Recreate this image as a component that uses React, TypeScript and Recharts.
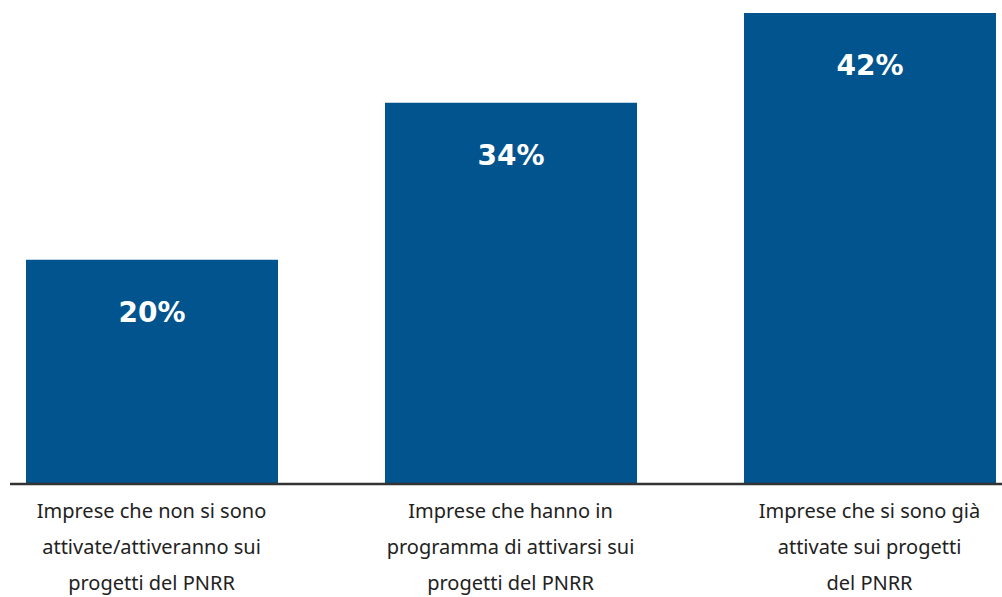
import * as React from "react";
import { BarChart, Bar, XAxis, YAxis, LabelList } from "recharts";

const categories = [
  "Imprese che non si sono\nattivate/attiveranno sui\nprogetti del PNRR",
  "Imprese che hanno in\nprogramma di attivarsi sui\nprogetti del PNRR",
  "Imprese che si sono già\nattivate sui progetti\ndel PNRR",
];
const shares = [20, 34, 42];

const data = categories.map((label, i) => ({ label, value: shares[i] }));

const BAR_COLOR = "#01548d";
const TEXT_COLOR = "#222222";

function CategoryTick({ x, y, payload }: any) {
  const lines = String(payload.value).split("\n");
  return (
    <g transform={`translate(${x},${y})`}>
      <text
        textAnchor="middle"
        fill={TEXT_COLOR}
        fontSize={20}
        fontFamily="'Noto Sans', sans-serif"
      >
        {lines.map((line, i) => (
          <tspan key={i} x={0} y={26 + i * 36}>
            {line}
          </tspan>
        ))}
      </text>
    </g>
  );
}

function ValueLabel({ x, y, width, value }: any) {
  return (
    <text
      x={x + width / 2}
      y={y + 62}
      textAnchor="middle"
      fill="#ffffff"
      fontSize={28}
      fontWeight="bold"
      fontFamily="'DejaVu Sans', sans-serif"
    >
      {value}%
    </text>
  );
}

export default function App() {
  return (
    <div
      style={{
        position: "fixed",
        left: 10,
        top: 0,
        width: 992,
        height: 597,
        overflow: "hidden",
        background: "#fff",
      }}
    >
      <div style={{ marginLeft: -38.5 }}>
        <BarChart
          width={1077}
          height={597}
          data={data}
          margin={{ top: 13, right: 0, left: 0, bottom: 0 }}
          barSize={252}
        >
          <XAxis
            dataKey="label"
            height={113}
            tickLine={false}
            axisLine={{ stroke: "#333333", strokeWidth: 2.5 }}
            tick={<CategoryTick />}
            interval={0}
          />
          <YAxis hide domain={[0, 42]} />
          <Bar dataKey="value" fill={BAR_COLOR} isAnimationActive={false}>
            <LabelList dataKey="value" content={<ValueLabel />} />
          </Bar>
        </BarChart>
      </div>
    </div>
  );
}
